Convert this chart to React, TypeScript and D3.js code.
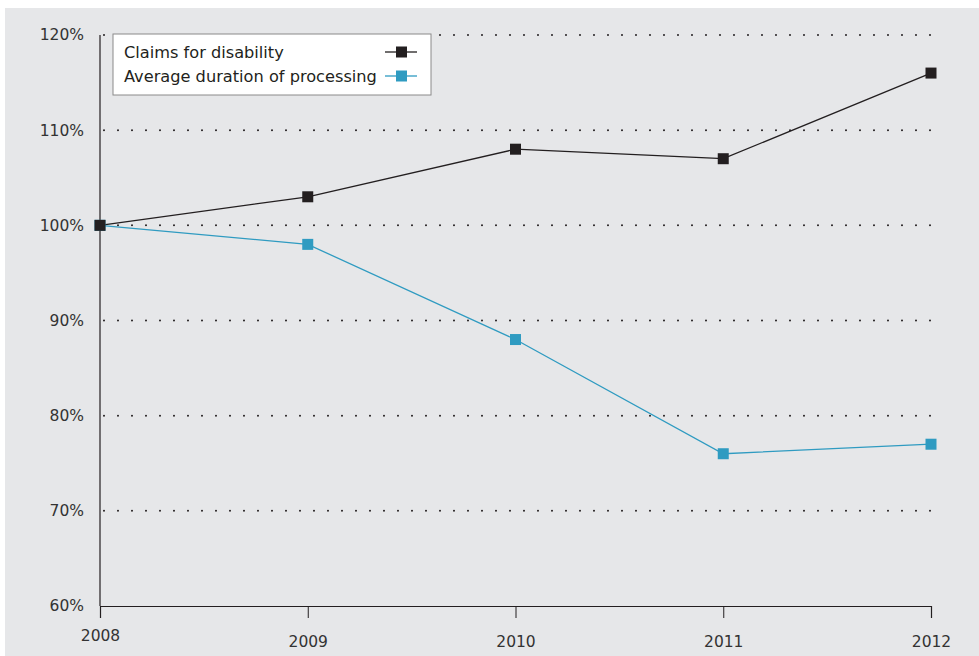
import React, { useRef, useEffect } from 'react';
import * as d3 from 'd3';

const years = [2008, 2009, 2010, 2011, 2012];
const claimsForDisability = [100, 103, 108, 107, 116];
const averageDuration = [100, 98, 88, 76, 77];
const yTicks = [60, 70, 80, 90, 100, 110, 120];
const seriesNames = ['Claims for disability', 'Average duration of processing'];
const seriesColors = ['#231f20', '#2f9bc1'];

const W = 979;
const H = 656;

const App: React.FC = () => {
  const svgRef = useRef<SVGSVGElement | null>(null);

  useEffect(() => {
    if (!svgRef.current) return;
    const svg = d3.select(svgRef.current);
    svg.selectAll('*').remove();

    const font = '"DejaVu Sans", sans-serif';
    const margin = { top: 35, right: 48, bottom: 50, left: 100 };
    const innerW = W - margin.left - margin.right;
    const innerH = H - margin.top - margin.bottom;

    // background panel
    svg.append('rect')
      .attr('x', 5).attr('y', 8)
      .attr('width', W - 5).attr('height', H - 8)
      .attr('fill', '#e6e7e9');

    const g = svg.append('g').attr('transform', `translate(${margin.left},${margin.top})`);

    const x = d3.scalePoint<number>().domain(years).range([0, innerW]);
    const y = d3.scaleLinear().domain([60, 120]).range([innerH, 0]);

    // dotted grid lines
    g.selectAll('.grid')
      .data(yTicks.filter(t => t > 60))
      .enter()
      .append('line')
      .attr('x1', 4).attr('x2', innerW)
      .attr('y1', d => y(d)).attr('y2', d => y(d))
      .attr('stroke', '#231f20')
      .attr('stroke-width', 2)
      .attr('stroke-linecap', 'round')
      .attr('stroke-dasharray', '0,14');

    // y axis line
    g.append('line')
      .attr('x1', 0).attr('x2', 0)
      .attr('y1', 0).attr('y2', innerH)
      .attr('stroke', '#231f20').attr('stroke-width', 1.2);

    // y tick labels
    g.selectAll('.ylab')
      .data(yTicks)
      .enter()
      .append('text')
      .attr('x', -16)
      .attr('y', d => y(d))
      .attr('dy', '0.35em')
      .attr('text-anchor', 'end')
      .attr('font-family', font)
      .attr('font-size', 15.5)
      .attr('fill', '#333')
      .text(d => `${d}%`);

    // x axis
    const xAxis = g.append('g')
      .attr('transform', `translate(0,${innerH})`)
      .call(d3.axisBottom(x).tickSize(12).tickPadding(18).tickFormat(d => `${d}`));
    xAxis.select('.domain').attr('stroke', '#231f20').attr('stroke-width', 1.2);
    xAxis.selectAll('.tick line').attr('stroke', '#231f20');
    xAxis.selectAll('text')
      .attr('font-family', font)
      .attr('font-size', 15.5)
      .attr('fill', '#333')
      .attr('dy', (d: any) => (d === 2008 ? '0.31em' : '0.71em'));

    const line = d3.line<number>()
      .x((_, i) => x(years[i]) || 0)
      .y(d => y(d));

    [claimsForDisability, averageDuration].forEach((series, si) => {
      g.append('path')
        .datum(series)
        .attr('fill', 'none')
        .attr('stroke', seriesColors[si])
        .attr('stroke-width', 1.3)
        .attr('d', line);
    });

    // markers: draw blue first, black on top
    [averageDuration, claimsForDisability].forEach((series, k) => {
      const si = k === 0 ? 1 : 0;
      g.selectAll(`.m${si}`)
        .data(series)
        .enter()
        .append('rect')
        .attr('x', (_, i) => (x(years[i]) || 0) - 5.5)
        .attr('y', d => y(d) - 5.5)
        .attr('width', 11).attr('height', 11)
        .attr('fill', seriesColors[si]);
    });

    // legend
    const legend = svg.append('g').attr('transform', 'translate(113,34)');
    legend.append('rect')
      .attr('width', 318).attr('height', 61)
      .attr('fill', 'white')
      .attr('stroke', '#8a8a8a').attr('stroke-width', 1);
    seriesNames.forEach((name, i) => {
      const cy = 18 + i * 24;
      legend.append('text')
        .attr('x', 11).attr('y', cy)
        .attr('dy', '0.35em')
        .attr('font-family', font)
        .attr('font-size', 16.2)
        .attr('fill', '#231f20')
        .text(name);
      legend.append('line')
        .attr('x1', 272).attr('x2', 304)
        .attr('y1', cy).attr('y2', cy)
        .attr('stroke', seriesColors[i]).attr('stroke-width', 1.3);
      legend.append('rect')
        .attr('x', 283).attr('y', cy - 5.5)
        .attr('width', 11).attr('height', 11)
        .attr('fill', seriesColors[i]);
    });
  }, []);

  return (
    <div style={{ position: 'absolute', left: 0, top: 0 }}>
      <svg ref={svgRef} width={W} height={H} style={{ display: 'block' }} />
    </div>
  );
};

export default App;
